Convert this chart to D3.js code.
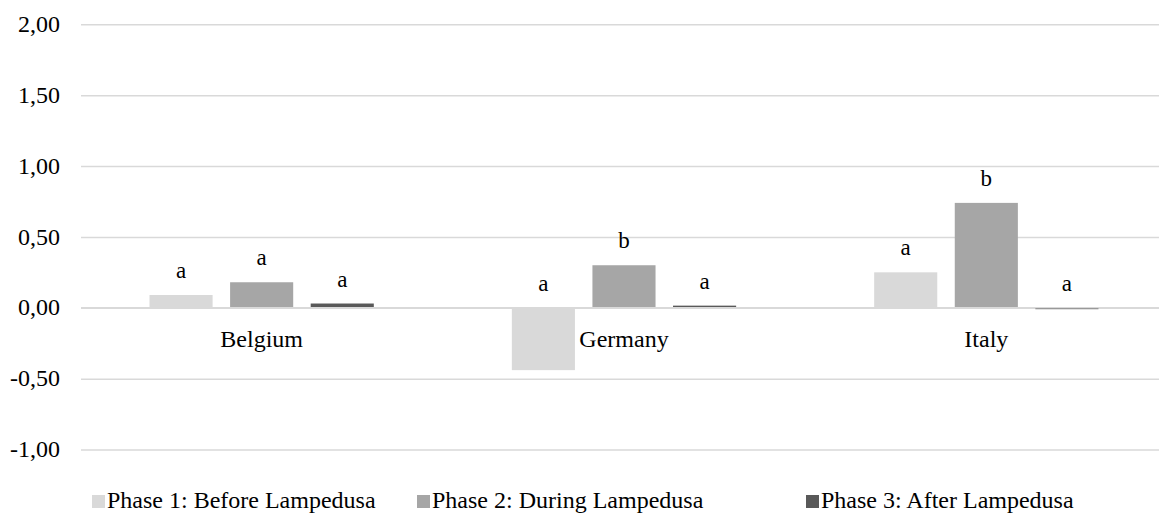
<!DOCTYPE html>
<html><head><meta charset="utf-8">
<script src="https://cdn.jsdelivr.net/npm/d3@7"></script>
</head><body style="margin:0">
<svg id="c" width="1159" height="514"></svg>
<script>
const categories = ["Belgium", "Germany", "Italy"];
const phases = ["Phase 1: Before Lampedusa", "Phase 2: During Lampedusa", "Phase 3: After Lampedusa"];
const phase1 = [0.09, -0.44, 0.25];
const phase2 = [0.18, 0.30, 0.74];
const phase3 = [0.03, 0.015, -0.01];
const letters1 = ["a", "a", "a"];
const letters2 = ["a", "b", "b"];
const letters3 = ["a", "a", "a"];
const yTicks = [-1, -0.5, 0, 0.5, 1, 1.5, 2];
const colors = ["#d9d9d9", "#a6a6a6", "#595959"];

const svg = d3.select("#c").attr("font-family", "Liberation Serif").style("font-family", "Liberation Serif");
const series = [phase1, phase2, phase3];
const letters = [letters1, letters2, letters3];
const x0 = d3.scaleBand().domain(categories).range([80.5, 1167.5]);
const x1 = d3.scaleBand().domain(phases).range([69, 362.3 - 69]).paddingInner(0.217);
const y = d3.scaleLinear().domain([-1, 2]).range([449.5, 24.3]);
const fmt = v => d3.format(".2f")(v).replace(".", ",").replace("−", "-");
function ser(sel, size) {
  return sel.attr("font-family", "Liberation Serif").style("font-family", "Liberation Serif")
    .attr("font-size", size).style("font-size", size + "px").attr("fill", "#000");
}

const gy = svg.append("g").attr("transform", "translate(81,0)")
  .call(d3.axisLeft(y).tickValues(yTicks).tickSize(-1078).tickPadding(21).tickFormat(fmt));
gy.attr("font-family", "Liberation Serif").attr("font-size", 24);
gy.select(".domain").remove();
gy.selectAll(".tick line").attr("stroke", "#d9d9d9").attr("stroke-width", 1.5);
ser(gy.selectAll(".tick text"), 24).attr("dy", "0.3em");

const rows = [];
categories.forEach((c, i) => phases.forEach((p, j) => rows.push({c, p, j, v: series[j][i], l: letters[j][i]})));

svg.append("g").selectAll("rect").data(rows).join("rect")
  .attr("x", d => x0(d.c) + x1(d.p))
  .attr("width", x1.bandwidth())
  .attr("y", d => y(Math.max(0, d.v)))
  .attr("height", d => Math.abs(y(d.v) - y(0)))
  .attr("fill", d => colors[d.j]);

svg.append("line").attr("x1", 81).attr("x2", 1159).attr("y1", y(0)).attr("y2", y(0))
  .attr("stroke", "#d9d9d9").attr("stroke-width", 1.5);

ser(svg.append("g").selectAll("text").data(rows).join("text")
  .attr("x", d => x0(d.c) + x1(d.p) + x1.bandwidth() / 2)
  .attr("y", d => y(Math.max(0, d.v)) - 17)
  .attr("text-anchor", "middle"), 23)
  .text(d => d.l);

const gx = svg.append("g").attr("transform", `translate(0,${y(0)})`)
  .call(d3.axisBottom(x0).tickSize(0).tickPadding(0));
gx.attr("font-family", "Liberation Serif").attr("font-size", 24);
gx.select(".domain").remove();
ser(gx.selectAll(".tick text"), 24).attr("dy", 0).attr("y", 39);

const legX = [92, 417, 806];
const leg = svg.append("g").selectAll("g").data(phases).join("g")
  .attr("transform", (d, i) => `translate(${legX[i]},495)`);
leg.append("rect").attr("width", 13).attr("height", 13).attr("fill", (d, i) => colors[i]);
ser(leg.append("text").attr("x", 15).attr("y", 12.5), 24).text(d => d);
</script></body></html>
